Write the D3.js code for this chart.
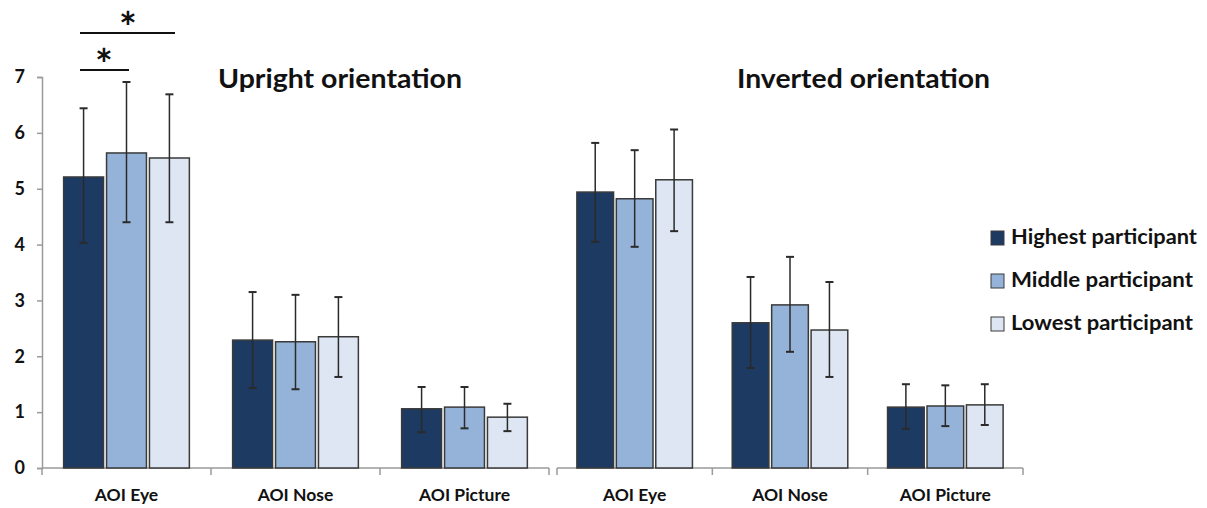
<!DOCTYPE html>
<html>
<head>
<meta charset="utf-8">
<script src="https://cdn.jsdelivr.net/npm/d3@7"></script>
<style>
  body { margin: 0; background: #fff; }
  svg { display: block; }
  text { font-family: Lato, "Open Sans", sans-serif; font-weight: bold; fill: #111; }
</style>
</head>
<body>
<svg id="chart" width="1207" height="508"></svg>
<script>
const categories = ["AOI Eye", "AOI Nose", "AOI Picture"];
const series = ["Highest participant", "Middle participant", "Lowest participant"];
const colors = ["#1d3a62", "#95b3d9", "#dde6f2"];
const panels = ["Upright orientation", "Inverted orientation"];
const yTicks = [0, 1, 2, 3, 4, 5, 6, 7];

// means [category][series]
const uprightMeans = [[5.21, 5.64, 5.55], [2.29, 2.26, 2.35], [1.06, 1.09, 0.91]];
const uprightUpper = [[6.44, 6.91, 6.69], [3.15, 3.10, 3.06], [1.45, 1.45, 1.15]];
const uprightLower = [[4.03, 4.40, 4.40], [1.43, 1.41, 1.63], [0.64, 0.71, 0.66]];
const invertedMeans = [[4.94, 4.82, 5.16], [2.60, 2.92, 2.47], [1.09, 1.11, 1.13]];
const invertedUpper = [[5.82, 5.69, 6.06], [3.42, 3.78, 3.33], [1.50, 1.48, 1.50]];
const invertedLower = [[4.05, 3.96, 4.24], [1.79, 2.08, 1.63], [0.70, 0.75, 0.77]];

const svg = d3.select("#chart");
const y = d3.scaleLinear().domain([0, 7]).range([468, 77]);

// y axis
const yAxis = svg.append("g").attr("transform", "translate(42,0)")
  .call(d3.axisLeft(y).tickValues(yTicks).tickSize(5).tickPadding(12).tickFormat(d3.format("d")));
yAxis.select(".domain").attr("stroke", "#9a9a9a").attr("stroke-width", 1.5);
yAxis.selectAll(".tick line").attr("stroke", "#9a9a9a").attr("stroke-width", 1.5);
yAxis.selectAll(".tick text").style("font-size", "18px").attr("fill", "#111");

const panelDefs = [
  { range: [42, 549], means: uprightMeans, upper: uprightUpper, lower: uprightLower, title: panels[0], titleX: 218 },
  { range: [557, 1023], means: invertedMeans, upper: invertedUpper, lower: invertedLower, title: panels[1], titleX: 737 }
];

panelDefs.forEach(p => {
  const x0 = d3.scaleBand().domain(categories).range(p.range).padding(0);
  const bw = x0.bandwidth();
  const x1 = d3.scaleBand().domain(series).range([bw * 0.128, bw * 0.872]).paddingInner(0.07).paddingOuter(0);
  const g = svg.append("g");

  // x axis
  const xAxis = g.append("g").attr("transform", "translate(0,468)")
    .call(d3.axisBottom(x0).tickSize(0).tickPadding(26));
  xAxis.select(".domain").remove();
  xAxis.append("line").attr("x1", p.range[0]).attr("x2", p.range[1]).attr("y1", 0).attr("y2", 0)
    .attr("stroke", "#9a9a9a").attr("stroke-width", 1.5);
  const bounds = categories.map(c => x0(c)).concat([p.range[1]]);
  xAxis.selectAll(".bound").data(bounds).enter().append("line")
    .attr("x1", d => d).attr("x2", d => d).attr("y1", 0).attr("y2", 7)
    .attr("stroke", "#9a9a9a").attr("stroke-width", 1.5);
  xAxis.selectAll(".tick text").style("font-size", "17.5px").attr("fill", "#111").attr("dy", "0.4em");

  categories.forEach((c, ci) => {
    series.forEach((s, si) => {
      const bx = x0(c) + x1(s);
      const cx = bx + x1.bandwidth() / 2;
      const v = p.means[ci][si];
      g.append("rect").attr("x", bx).attr("y", y(v)).attr("width", x1.bandwidth()).attr("height", y(0) - y(v))
        .attr("fill", colors[si]).attr("stroke", "#3a3a3a").attr("stroke-width", 1.5);
      const up = p.upper[ci][si], lo = p.lower[ci][si];
      g.append("line").attr("x1", cx).attr("x2", cx).attr("y1", y(up)).attr("y2", y(lo))
        .attr("stroke", "#2a2a2a").attr("stroke-width", 1.5);
      [up, lo].forEach(e => {
        g.append("line").attr("x1", cx - 4).attr("x2", cx + 4).attr("y1", y(e)).attr("y2", y(e))
          .attr("stroke", "#2a2a2a").attr("stroke-width", 2);
      });
    });
  });

  svg.append("text").attr("x", p.titleX).attr("y", 88).style("font-size", "26px")
    .attr("textLength", p.title === panels[0] ? 244 : 253).attr("lengthAdjust", "spacingAndGlyphs")
    .text(p.title);
});

// significance markers
const sig = [
  { x1: 80, x2: 175, yy: 33, star: 128, sy: 43 },
  { x1: 80, x2: 129, yy: 70, star: 104, sy: 80 }
];
sig.forEach(s => {
  svg.append("line").attr("x1", s.x1).attr("x2", s.x2).attr("y1", s.yy).attr("y2", s.yy)
    .attr("stroke", "#111").attr("stroke-width", 2);
  svg.append("text").attr("x", s.star).attr("y", s.sy).attr("text-anchor", "middle")
    .style("font-size", "42px").text("*");
});

// legend
const legend = svg.append("g");
series.forEach((s, i) => {
  const ly = 231 + i * 43;
  legend.append("rect").attr("x", 991).attr("y", ly).attr("width", 13).attr("height", 14)
    .attr("fill", colors[i]).attr("stroke", "#3a3a3a").attr("stroke-width", 1);
  legend.append("text").attr("x", 1011).attr("y", ly + 13).style("font-size", "20px")
    .attr("textLength", [186, 182, 182][i]).attr("lengthAdjust", "spacingAndGlyphs").text(s);
});
</script>
</body>
</html>
